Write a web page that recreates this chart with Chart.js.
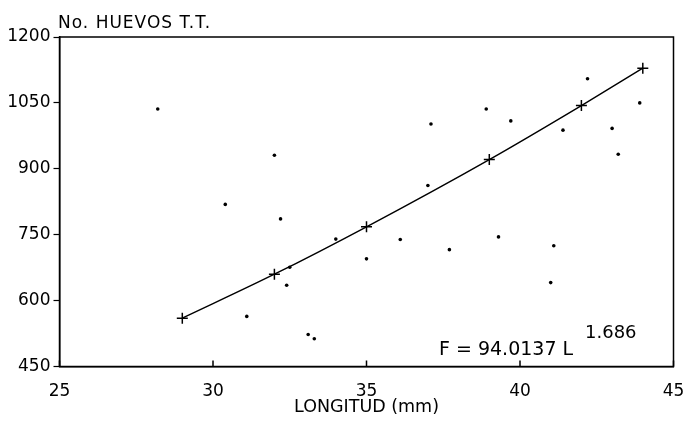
<!DOCTYPE html>
<html>
<head>
<meta charset="utf-8">
<script src="https://cdn.jsdelivr.net/npm/chart.js@4.4.0/dist/chart.umd.min.js"></script>
<style>
  html, body { margin: 0; padding: 0; background: #fff; }
</style>
</head>
<body>
<canvas id="chart" width="687" height="426"></canvas>
<script>
// observed points: length (mm) vs number of eggs
const lengthMm = [28.2, 30.4, 31.1, 32.0, 32.2, 32.4, 32.5, 33.1, 33.3, 34.0, 35.0, 36.1, 37.0, 37.1,
                  37.7, 38.9, 39.3, 39.7, 41.0, 41.1, 41.4, 42.2, 43.0, 43.2, 43.9];
const eggs     = [1036, 819, 564, 931, 786, 635, 676, 523, 513, 740, 695, 739, 862, 1002,
                  716, 1036, 745, 1009, 641, 725, 988, 1105, 992, 933, 1050];

// fitted curve F = 94.0137 L^1.686 (crosses)
const fitLength = [29, 32, 35, 39, 42, 44];
const fitEggs   = [560, 660, 768, 921, 1044, 1129];

const xTicks = [25, 30, 35, 40, 45];
const yTicks = [450, 600, 750, 900, 1050, 1200];

const FONT = "'DejaVu Sans', sans-serif";

const scatterPts = lengthMm.map((x, i) => ({ x: x, y: eggs[i] }));
const fitPts = fitLength.map((x, i) => ({ x: x, y: fitEggs[i] }));

// frame, inner x ticks, y-axis caption and the equation
const extras = {
  id: 'extras',
  afterDraw(chart) {
    const { ctx, chartArea: a, scales } = chart;
    ctx.save();
    ctx.strokeStyle = '#000';
    ctx.lineWidth = 1.5;
    ctx.strokeRect(a.left, a.top, a.right - a.left, a.bottom - a.top);

    ctx.beginPath();
    xTicks.forEach(v => {
      const px = scales.x.getPixelForValue(v);
      ctx.moveTo(px, a.bottom);
      ctx.lineTo(px, a.bottom - 6);
    });
    ctx.stroke();

    ctx.fillStyle = '#000';
    ctx.textBaseline = 'alphabetic';
    ctx.textAlign = 'left';
    ctx.font = "17px " + FONT;
    ctx.letterSpacing = '1px';
    ctx.fillText('No. HUEVOS T.T.', 58, 28);
    ctx.letterSpacing = '0px';

    ctx.font = "19px " + FONT;
    ctx.fillText('F = 94.0137 L', 439, 355);
    ctx.font = "18px " + FONT;
    ctx.fillText('1.686', 585, 338);
    ctx.restore();
  }
};

new Chart(document.getElementById('chart'), {
  type: 'scatter',
  data: {
    datasets: [
      {
        label: 'Observado',
        data: scatterPts,
        pointRadius: 1.8,
        pointBackgroundColor: '#000',
        pointBorderWidth: 0
      },
      {
        label: 'Ajuste',
        data: fitPts,
        showLine: true,
        cubicInterpolationMode: 'monotone',
        borderColor: '#000',
        borderWidth: 1.4,
        pointStyle: 'cross',
        pointRadius: 5.5,
        pointBorderColor: '#000',
        pointBorderWidth: 1.5
      }
    ]
  },
  options: {
    responsive: false,
    animation: false,
    layout: { padding: { top: 37, right: 13.5, left: 0, bottom: 0 } },
    plugins: { legend: { display: false }, tooltip: { enabled: false } },
    scales: {
      x: {
        type: 'linear',
        min: 25,
        max: 45,
        afterBuildTicks: s => { s.ticks = xTicks.map(v => ({ value: v })); },
        afterFit: s => { s.height = 59.5; s.paddingLeft = 0; s.paddingRight = 0; },
        border: { color: '#000', width: 1.5 },
        grid: { drawOnChartArea: false, drawTicks: false },
        ticks: { color: '#000', padding: 15, font: { family: FONT, size: 17 }, callback: v => String(v) },
        title: {
          display: true,
          text: 'LONGITUD (mm)',
          color: '#000',
          font: { family: FONT, size: 17.5 },
          padding: { top: 0, bottom: 8 }
        }
      },
      y: {
        type: 'linear',
        min: 450,
        max: 1200,
        afterBuildTicks: s => { s.ticks = yTicks.map(v => ({ value: v })); },
        afterFit: s => { s.width = 59.5; s.paddingTop = 0; s.paddingBottom = 0; },
        border: { color: '#000', width: 1.5 },
        grid: { drawOnChartArea: false, drawTicks: true, tickLength: 6, tickColor: '#000', tickWidth: 1.2 },
        ticks: { color: '#000', padding: 3, font: { family: FONT, size: 17 }, callback: v => String(v) }
      }
    }
  },
  plugins: [extras]
});
</script>
</body>
</html>
